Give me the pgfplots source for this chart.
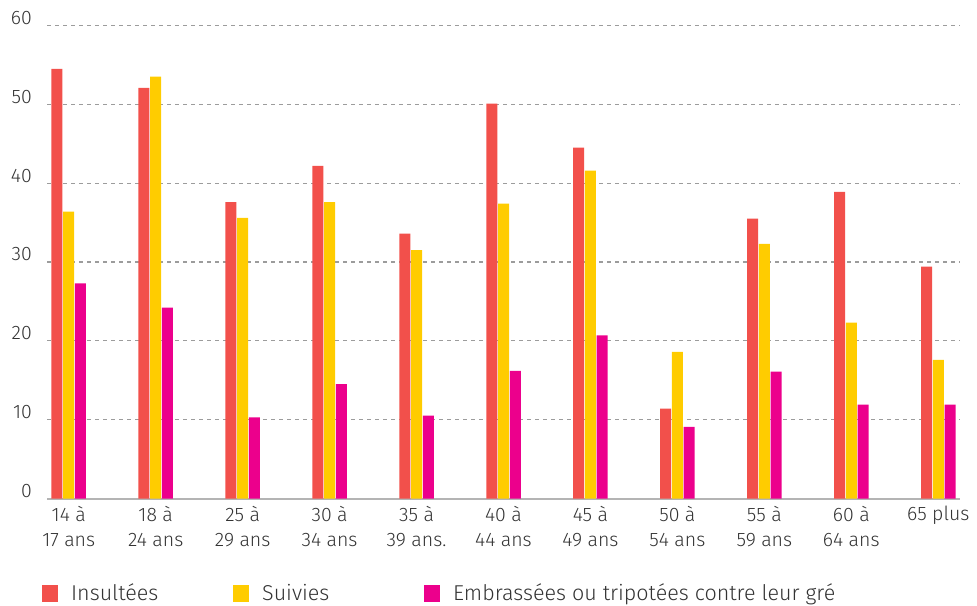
\documentclass[border=0pt]{standalone}
\usepackage{fontspec}
\setmainfont{Fira Sans}[UprightFont=* Light]
\usepackage{pgfplots}
\pgfplotsset{compat=1.18}
\definecolor{cred}{HTML}{F2504B}
\definecolor{cyel}{HTML}{FFCC00}
\definecolor{cmag}{HTML}{EC008C}
\definecolor{ctext}{HTML}{333333}
\definecolor{cgrid}{HTML}{9C9C9C}
\definecolor{caxis}{HTML}{B4B4B4}
\begin{document}
\begin{tikzpicture}
\useasboundingbox (0,0) rectangle (977pt,605pt);
\begin{axis}[
  at={(47pt,106.5pt)}, anchor=south west,
  scale only axis, width=913pt, height=473pt,
  xmin=-0.25, xmax=10.25, ymin=0, ymax=60,
  ytick={0,10,...,60},
  xtick={0,...,10},
  xticklabels={{14 à\\17 ans},{18 à\\24 ans},{25 à\\29 ans},{30 à\\34 ans},{35 à\\39 ans.},{40 à\\44 ans},{45 à\\49 ans},{50 à\\54 ans},{55 à\\59 ans},{60 à\\64 ans},{65 plus}},
  /pgf/number format/assume math mode=true,
  xticklabel style={align=center, anchor=north, font=\fontsize{19.5}{25}\selectfont, text=ctext, yshift=-4pt},
  yticklabel style={anchor=base east, inner sep=0pt, font=\fontsize{19.5}{23}\selectfont, text=ctext, xshift=-15pt, yshift=1pt},
  axis x line*=bottom, axis y line*=left,
  y axis line style={draw=none},
  x axis line style={draw=caxis, line width=2pt, -},
  major tick length=0pt,
  ymajorgrids,
  grid style={draw=cgrid, line width=1.3pt, dash pattern=on 4pt off 4pt},
  ybar, bar width=11pt,
  legend style={at={(-0.0055,-0.1998)}, anchor=west, draw=none, legend columns=3, font=\fontsize{21.5}{26}\selectfont, text=ctext, inner sep=0pt,
    /tikz/every odd column/.append style={column sep=11pt}},
  legend image code/.code={\fill[#1] (0pt,-8.5pt) rectangle (16pt,8.5pt);},
]
\addplot[fill=cred, draw=none, bar shift=-11.75pt] coordinates {(0,54.5) (1,52.1) (2,37.6) (3,42.2) (4,33.6) (5,50.1) (6,44.5) (7,11.4) (8,35.5) (9,38.9) (10,29.4)};
\addplot[fill=cyel, draw=none, bar shift=0pt] coordinates {(0,36.4) (1,53.5) (2,35.6) (3,37.6) (4,31.5) (5,37.4) (6,41.6) (7,18.6) (8,32.3) (9,22.3) (10,17.6)};
\addplot[fill=cmag, draw=none, bar shift=11.75pt] coordinates {(0,27.3) (1,24.2) (2,10.3) (3,14.5) (4,10.5) (5,16.2) (6,20.7) (7,9.1) (8,16.1) (9,11.9) (10,11.9)};
\addlegendentry{\makebox[160pt][l]{Insultées}}
\addlegendentry{\makebox[160pt][l]{Suivies}}
\addlegendentry{Embrassées ou tripotées contre leur gré}
\end{axis}
\end{tikzpicture}
\end{document}
